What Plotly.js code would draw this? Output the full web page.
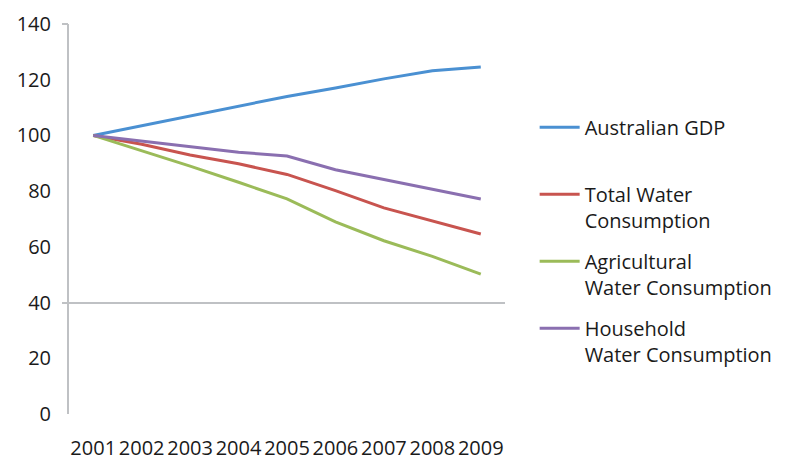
<!DOCTYPE html>
<html>
<head>
<meta charset="utf-8">
<script src="https://cdn.plot.ly/plotly-3.0.1.min.js"></script>
<style>html,body{margin:0;padding:0;background:#fff;}#chart{width:798px;height:461px;}</style>
</head>
<body>
<div id="chart"></div>
<script>
const years = ["2001","2002","2003","2004","2005","2006","2007","2008","2009"];
const gdp = [100, 103.5, 107, 110.5, 114, 117, 120.3, 123.2, 124.6];
const totalWater = [100, 96.8, 93, 89.8, 86, 80.2, 74, 69.2, 64.6];
const agriWater = [100, 94.6, 89, 83.2, 77.2, 69, 62.2, 56.6, 50.2];
const householdWater = [100, 98, 95.8, 94, 92.6, 87.7, 84.2, 80.6, 77.2];
const seriesNames = ["Australian GDP<br> ", "Total Water<br>Consumption", "Agricultural<br>Water Consumption", "Household<br>Water Consumption"];
const yTicks = [0, 20, 40, 60, 80, 100, 120, 140];
const gridTicks = [40, 140];

const colors = ["#4A90D2", "#C8544F", "#9BBB59", "#8A6FB0"];
const allSeries = [gdp, totalWater, agriWater, householdWater];
const traces = allSeries.map((vals, i) => ({
  x: years, y: vals, type: "scatter", mode: "lines",
  name: seriesNames[i], legendgroup: "g" + i,
  line: {color: colors[i], width: 3}
}));
// invisible helper trace to drive the secondary gridline axis
traces.push({x: years, y: gdp, yaxis: "y2", mode: "lines", line: {width: 0}, showlegend: false, hoverinfo: "skip", opacity: 0});

const fam = "Open Sans, Lato, sans-serif";
const font = {family: fam, size: 20, color: "#1a1a1a"};
const layout = {
  width: 798, height: 461,
  margin: {l: 69, r: 293, t: 24, b: 47},
  paper_bgcolor: "#fff", plot_bgcolor: "rgba(0,0,0,0)",
  font: font,
  showlegend: true,
  legend: {x: 1.068, xanchor: "left", y: 0.785, yanchor: "top", valign: "top",
           font: {family: fam, size: 20, color: "#1a1a1a"},
           tracegroupgap: 12, itemwidth: 40, traceorder: "grouped"},
  xaxis: {type: "category", range: [-0.5, 8.5], showgrid: false, zeroline: false,
          showline: false, ticks: "", ticklabelstandoff: 20,
          tickfont: {family: fam, size: 20, color: "#1a1a1a"}},
  yaxis: {range: [0, 140], tickvals: yTicks, showgrid: false, zeroline: false,
          showline: true, linecolor: "#BFC1C4", linewidth: 2, ticks: "",
          ticklabelstandoff: 12,
          tickfont: {family: fam, size: 20, color: "#1a1a1a"}},
  yaxis2: {range: [0, 140], overlaying: "y", side: "left", tickvals: gridTicks,
           showgrid: true, gridcolor: "#BFC1C4", gridwidth: 2, showticklabels: false,
           ticks: "outside", ticklen: 6, tickcolor: "#BFC1C4", tickwidth: 2,
           zeroline: false, showline: false}
};
Plotly.newPlot("chart", traces, layout, {displayModeBar: false, staticPlot: true});
</script>
</body>
</html>
